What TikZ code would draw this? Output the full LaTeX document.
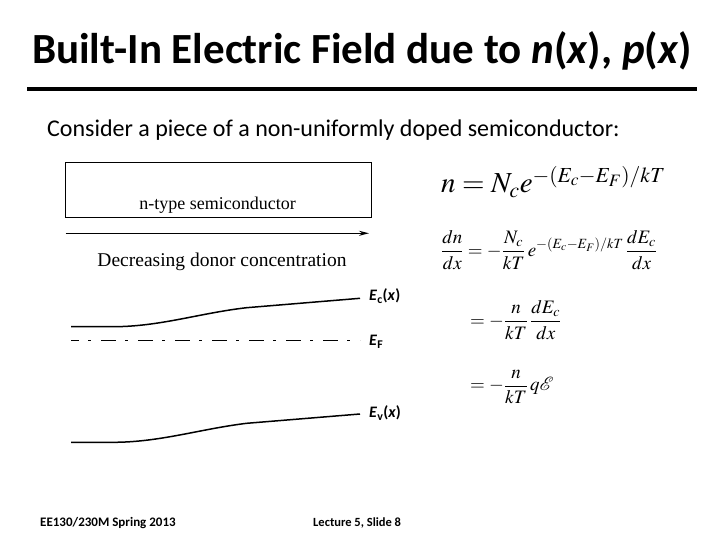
\documentclass[tikz,border=0pt]{standalone}
\usepackage{mathptmx}
\usepackage{fontspec}
\setmainfont{Carlito}
\newfontfamily\timesf{Liberation Serif}
\usetikzlibrary{arrows.meta}
\tikzset{
  band/.style={line width=1.5pt},
  lbl/.style={anchor=west, inner sep=0pt, font=\bfseries\fontsize{16}{18}\selectfont},
  eq/.style={anchor=west, inner sep=0pt},
  fig/.style={inner sep=0pt, font=\timesf\fontsize{18}{20}\selectfont},
  foot/.style={anchor=west, inner sep=0pt}
}
\begin{document}
\begin{tikzpicture}[x=1pt,y=-1pt]
\useasboundingbox (0,0) rectangle (720,540);
% title
\node[inner sep=0pt, font=\bfseries\fontsize{43}{48}\selectfont] (title) at (362,51) {Built-In Electric Field due to \textit{n}(\textit{x}), \textit{p}(\textit{x})};
\draw[line width=4pt] (27,89) coordinate (r1) -- (697,89) coordinate (r2);
\node[anchor=west, inner sep=0pt, font=\fontsize{24}{28}\selectfont] (cons) at (47,130) {Consider a piece of a non-uniformly doped semiconductor:};
% semiconductor box
\node[draw, line width=1pt, minimum width=306pt, minimum height=55pt, inner sep=0pt] (box) at (218.7,190.5) {};
\node[fig] (ntype) at (217.5,205) {n-type semiconductor};
\coordinate (a1) at (65.7,233.3);
\coordinate (a2) at (369,233.3);
\draw[line width=1.3pt, -{Stealth[length=10pt,width=5pt]}] (a1) -- (a2);
\node[fig, font=\timesf\fontsize{19.5}{22}\selectfont] (dec) at (222,261.5) {Decreasing donor concentration};
% bands
\draw[band] (71,326.7) -- (113,326.7) .. controls (160,326.7) and (200,313) .. (246.7,307.7) -- (360,298.3);
\draw[line width=1.3pt, dash pattern=on 15pt off 9pt on 3pt off 10pt, dash phase=7pt] (71,340.7) -- (360,340.7);
\draw[band] (71,442.3) -- (113,442.3) .. controls (160,442.3) and (200,429) .. (246.7,423.3) -- (360,414);
\node[lbl] (ec) at (369,296) {\textit{E}\textsubscript{c}(\textit{x})};
\node[lbl] (ef) at (369,342) {\textit{E}\textsubscript{F}};
\node[lbl] (ev) at (369,413) {\textit{E}\textsubscript{v}(\textit{x})};
% equations
\node[eq, anchor=base west] (eq1) at (441,193) {\fontsize{29}{34}\selectfont $n=N_c e^{-(E_c-E_F)/kT}$};
\node[eq] (eq2) at (441,250) {\fontsize{19}{22}\selectfont $\displaystyle \frac{dn}{dx}=-\frac{N_c}{kT}\,e^{-(E_c-E_F)/kT}\,\frac{dE_c}{dx}$};
\node[eq] (eq3) at (470,320) {\fontsize{19}{22}\selectfont $\displaystyle =-\frac{n}{kT}\,\frac{dE_c}{dx}$};
\node[eq] (eq4) at (470,387) {\fontsize{19}{22}\selectfont $\displaystyle =-\frac{n}{kT}\,q\mathcal{E}$};
% footer
\node[foot, font=\bfseries\fontsize{13}{15}\selectfont] (f1) at (40,523) {EE130/230M Spring 2013};
\node[foot, font=\bfseries\fontsize{12.5}{15}\selectfont] (f2) at (313,523) {Lecture 5, Slide 8};
\end{tikzpicture}
\end{document}
